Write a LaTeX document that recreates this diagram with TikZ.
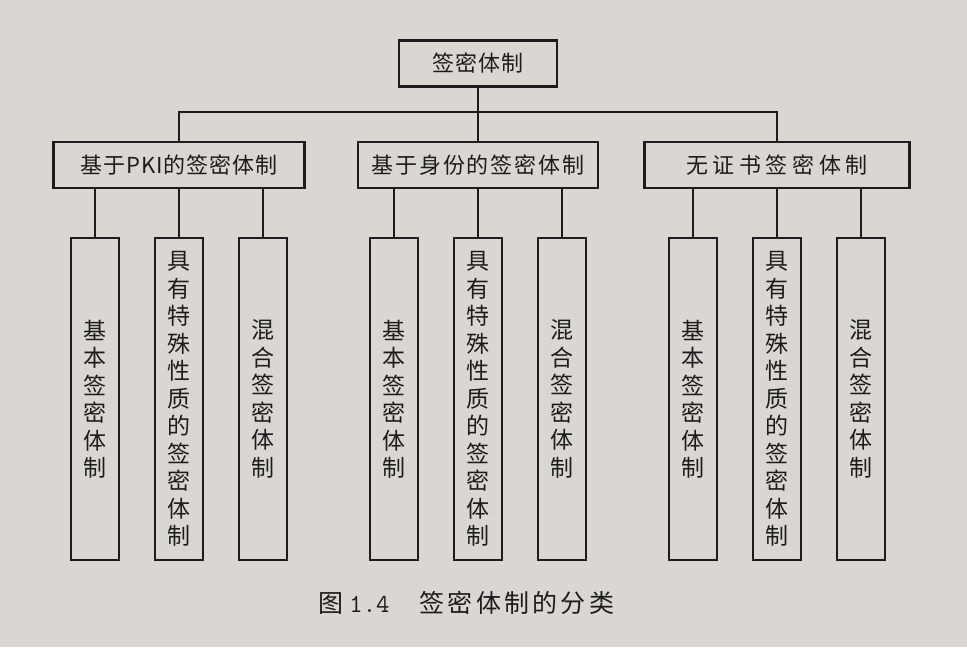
\documentclass[tikz,border=0pt]{standalone}
\usepackage{fontspec}
\setmainfont{Noto Sans CJK SC}
\usepackage{tikz}
\definecolor{paper}{RGB}{216,215,211}
\definecolor{ink}{RGB}{28,28,28}

\begin{document}
\begin{tikzpicture}[x=0.5pt,y=-0.5pt,
  box/.style={draw=ink,line width=1.2pt,text=ink,inner sep=0pt},
  kind/.style 2 args={box,minimum height=23pt,minimum width=#1,
    font=\fontsize{11}{13}\selectfont\addfontfeature{LetterSpace=#2}},
  leaf/.style={box,minimum width=24pt,minimum height=161pt,align=center,
    font=\fontsize{11.5}{13.75}\selectfont},
  edge from parent/.style={draw=ink,line width=1pt},
  level 1/.style={sibling distance=149.5pt,level distance=50.75pt,
    edge from parent path={(\tikzparentnode.south) -- (\tikzparentnode.south |- bus) -| (\tikzchildnode.north)}},
  level 2/.style={sibling distance=42pt,level distance=117pt,
    edge from parent path={(\tikzchildnode.north |- \tikzparentnode.south) -- (\tikzchildnode.north)}}]
\fill[paper] (0,0) rectangle (967,647);
\coordinate (bus) at (478,112);
\node [kind={79pt}{4}] (root) at (478,63.5) {签密体制}
  child{node [kind={125.5pt}{4}] (pki) {基于PKI的签密体制}
    child{node [leaf] (pkibasic) {基\\本\\签\\密\\体\\制}}
    child{node [leaf] (pkispecial) {具\\有\\特\\殊\\性\\质\\的\\签\\密\\体\\制}}
    child{node [leaf] (pkimixed) {混\\合\\签\\密\\体\\制}}
  }
  child{node [kind={120pt}{8}] (ident) {基于身份的签密体制}
    child{node [leaf] (idbasic) {基\\本\\签\\密\\体\\制}}
    child{node [leaf] (idspecial) {具\\有\\特\\殊\\性\\质\\的\\签\\密\\体\\制}}
    child{node [leaf] (idmixed) {混\\合\\签\\密\\体\\制}}
  }
  child{node [kind={132.5pt}{21}] (nocert) {无证书签密体制}
    child{node [leaf] (ncbasic) {基\\本\\签\\密\\体\\制}}
    child{node [leaf] (ncspecial) {具\\有\\特\\殊\\性\\质\\的\\签\\密\\体\\制}}
    child{node [leaf] (ncmixed) {混\\合\\签\\密\\体\\制}}
  };
% caption under the figure
\node [anchor=west,inner sep=0pt,text=ink,
  font=\fontsize{12.5}{15}\selectfont\addfontfeature{LetterSpace=13}] (caption) at (318,603)
  {图\hspace{3pt}{\ttfamily\fontsize{13}{15}\selectfont 1.4}\hspace{15pt}签密体制的分类};
\end{tikzpicture}
\end{document}
